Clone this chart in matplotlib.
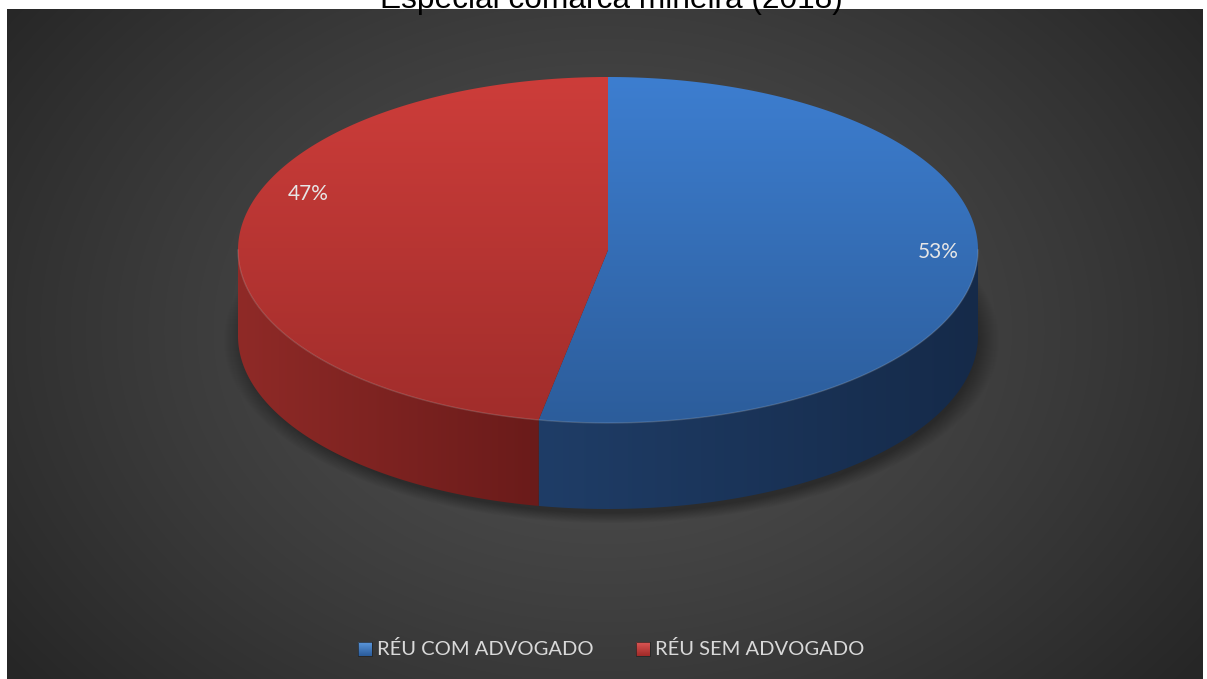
import numpy as np
from matplotlib import pyplot as plt
from matplotlib.patches import Polygon, Rectangle
from matplotlib.colors import to_rgb


# slice data
labels = ['RÉU COM ADVOGADO', 'RÉU SEM ADVOGADO']
values = [53, 47]
title = 'Especial comarca mineira (2018)'

# colours per slice: top face (light, dark), side wall (left, right), legend key
top_colors = [('#3d7ed0', '#2c5d9b'), ('#cd3d3a', '#a12d2b')]
side_colors = [('#1f3d67', '#152a49'), ('#8f2a27', '#6a1b1a')]
key_colors = [('#5b97dc', '#2a5b9a'), ('#dc5654', '#a02a28')]

W, H = 1207, 679
fig = plt.figure(figsize=(W / 100, H / 100), dpi=100)
ax = fig.add_axes([0, 0, 1, 1])


def grad_fill(xy, c0, c1, horizontal, z):
    # polygon filled with a linear gradient (image clipped to the patch)
    patch = Polygon(xy, closed=True, fc='none', ec='none', zorder=z)
    ax.add_patch(patch)
    t = np.linspace(0, 1, 256)[:, None]
    img = (1 - t) * np.array(to_rgb(c0)) + t * np.array(to_rgb(c1))
    img = img[None, :, :] if horizontal else img[:, None, :]
    xs, ys = xy[:, 0], xy[:, 1]
    im = ax.imshow(img, extent=(xs.min(), xs.max(), ys.max(), ys.min()),
                   aspect='auto', interpolation='bilinear', zorder=z)
    im.set_clip_path(patch)


# dark chart area with radial gradient
bx0, bx1, by0, by1 = 7, 1203, 9, 679
yy, xx = np.mgrid[by0:by1, bx0:bx1]
d = np.clip(np.sqrt(((xx - 604) / 750.) ** 2 + ((yy - 330) / 560.) ** 2), 0, 1)
g = (80 - 42 * d ** 1.3) / 255.
ax.imshow(np.dstack([g, g, g]), extent=(bx0, bx1, by1, by0),
          aspect='auto', interpolation='bilinear', zorder=0)

# 3d pie geometry (pixels)
cx, cy, a, b, depth = 608, 250, 370, 173, 86


def rim(t0, t1, n=300):
    t = np.radians(np.linspace(t0, t1, n))
    return np.column_stack([cx + a * np.sin(t), cy - b * np.cos(t)])


# soft shadow under the disc
sx0, sx1, sy0, sy1 = cx - a - 40, cx + a + 40, cy - b, cy + b + depth + 40
syy, sxx = np.mgrid[sy0:sy1, sx0:sx1]
r = np.sqrt(((sxx - cx - 3) / (a + 3.)) ** 2 + ((syy - cy - depth - 4) / (b + 3.)) ** 2)
alpha = 0.35 * np.clip((1.04 - r) / 0.06, 0, 1)
shadow = np.zeros(alpha.shape + (4,))
shadow[..., 3] = alpha
ax.imshow(shadow, extent=(sx0, sx1, sy1, sy0), aspect='auto',
          interpolation='bilinear', zorder=1)

fracs = np.array(values, dtype=float) / np.sum(values)
bounds = np.concatenate([[0], np.cumsum(fracs) * 360])

# side walls first (only the front half of the cylinder is visible)
for i in range(len(values)):
    t0, t1 = max(bounds[i], 90), min(bounds[i + 1], 270)
    if t1 <= t0:
        continue
    upper = rim(t0, t1)
    lower = upper[::-1] + [0, depth]
    grad_fill(np.vstack([upper, lower]), side_colors[i][0], side_colors[i][1], True, 2)

# top faces
for i in range(len(values)):
    pts = np.vstack([[cx, cy], rim(bounds[i], bounds[i + 1]), [cx, cy]])
    grad_fill(pts, top_colors[i][0], top_colors[i][1], False, 3)

# light edge along the front rim
front = rim(90, 270)
ax.plot(front[:, 0], front[:, 1], color='white', alpha=0.15, lw=1.0, zorder=4)

# percentage labels
label_pos = [(938, 252), (308, 194)]
for v, (lx, ly) in zip(values, label_pos):
    ax.text(lx, ly, '%d%%' % v, ha='center', va='center', fontsize=15,
            family='Lato', color='#e6e6e6', zorder=5)

# legend
key_x = [358, 636]
for lab, kc, kx in zip(labels, key_colors, key_x):
    grad_fill(np.array([[kx, 642], [kx + 14, 642], [kx + 14, 656], [kx, 656]]),
              kc[0], kc[1], False, 5)
    ax.add_patch(Rectangle((kx, 642), 14, 14, fc='none', ec='#222222', lw=0.5, zorder=6))
    ax.text(kx + 19, 649, lab, ha='left', va='center', fontsize=14.5,
            family='Lato', color='#d9d9d9', zorder=5)

# title sits mostly above the chart area and is cut off by the figure edge
ax.text(611, 8, title, ha='center', va='baseline', fontsize=22.8,
        family='Liberation Sans', color='black', zorder=6)

ax.set_xlim(0, W)
ax.set_ylim(H, 0)
ax.axis('off')

plt.savefig('out.png', dpi=100, facecolor='white')
